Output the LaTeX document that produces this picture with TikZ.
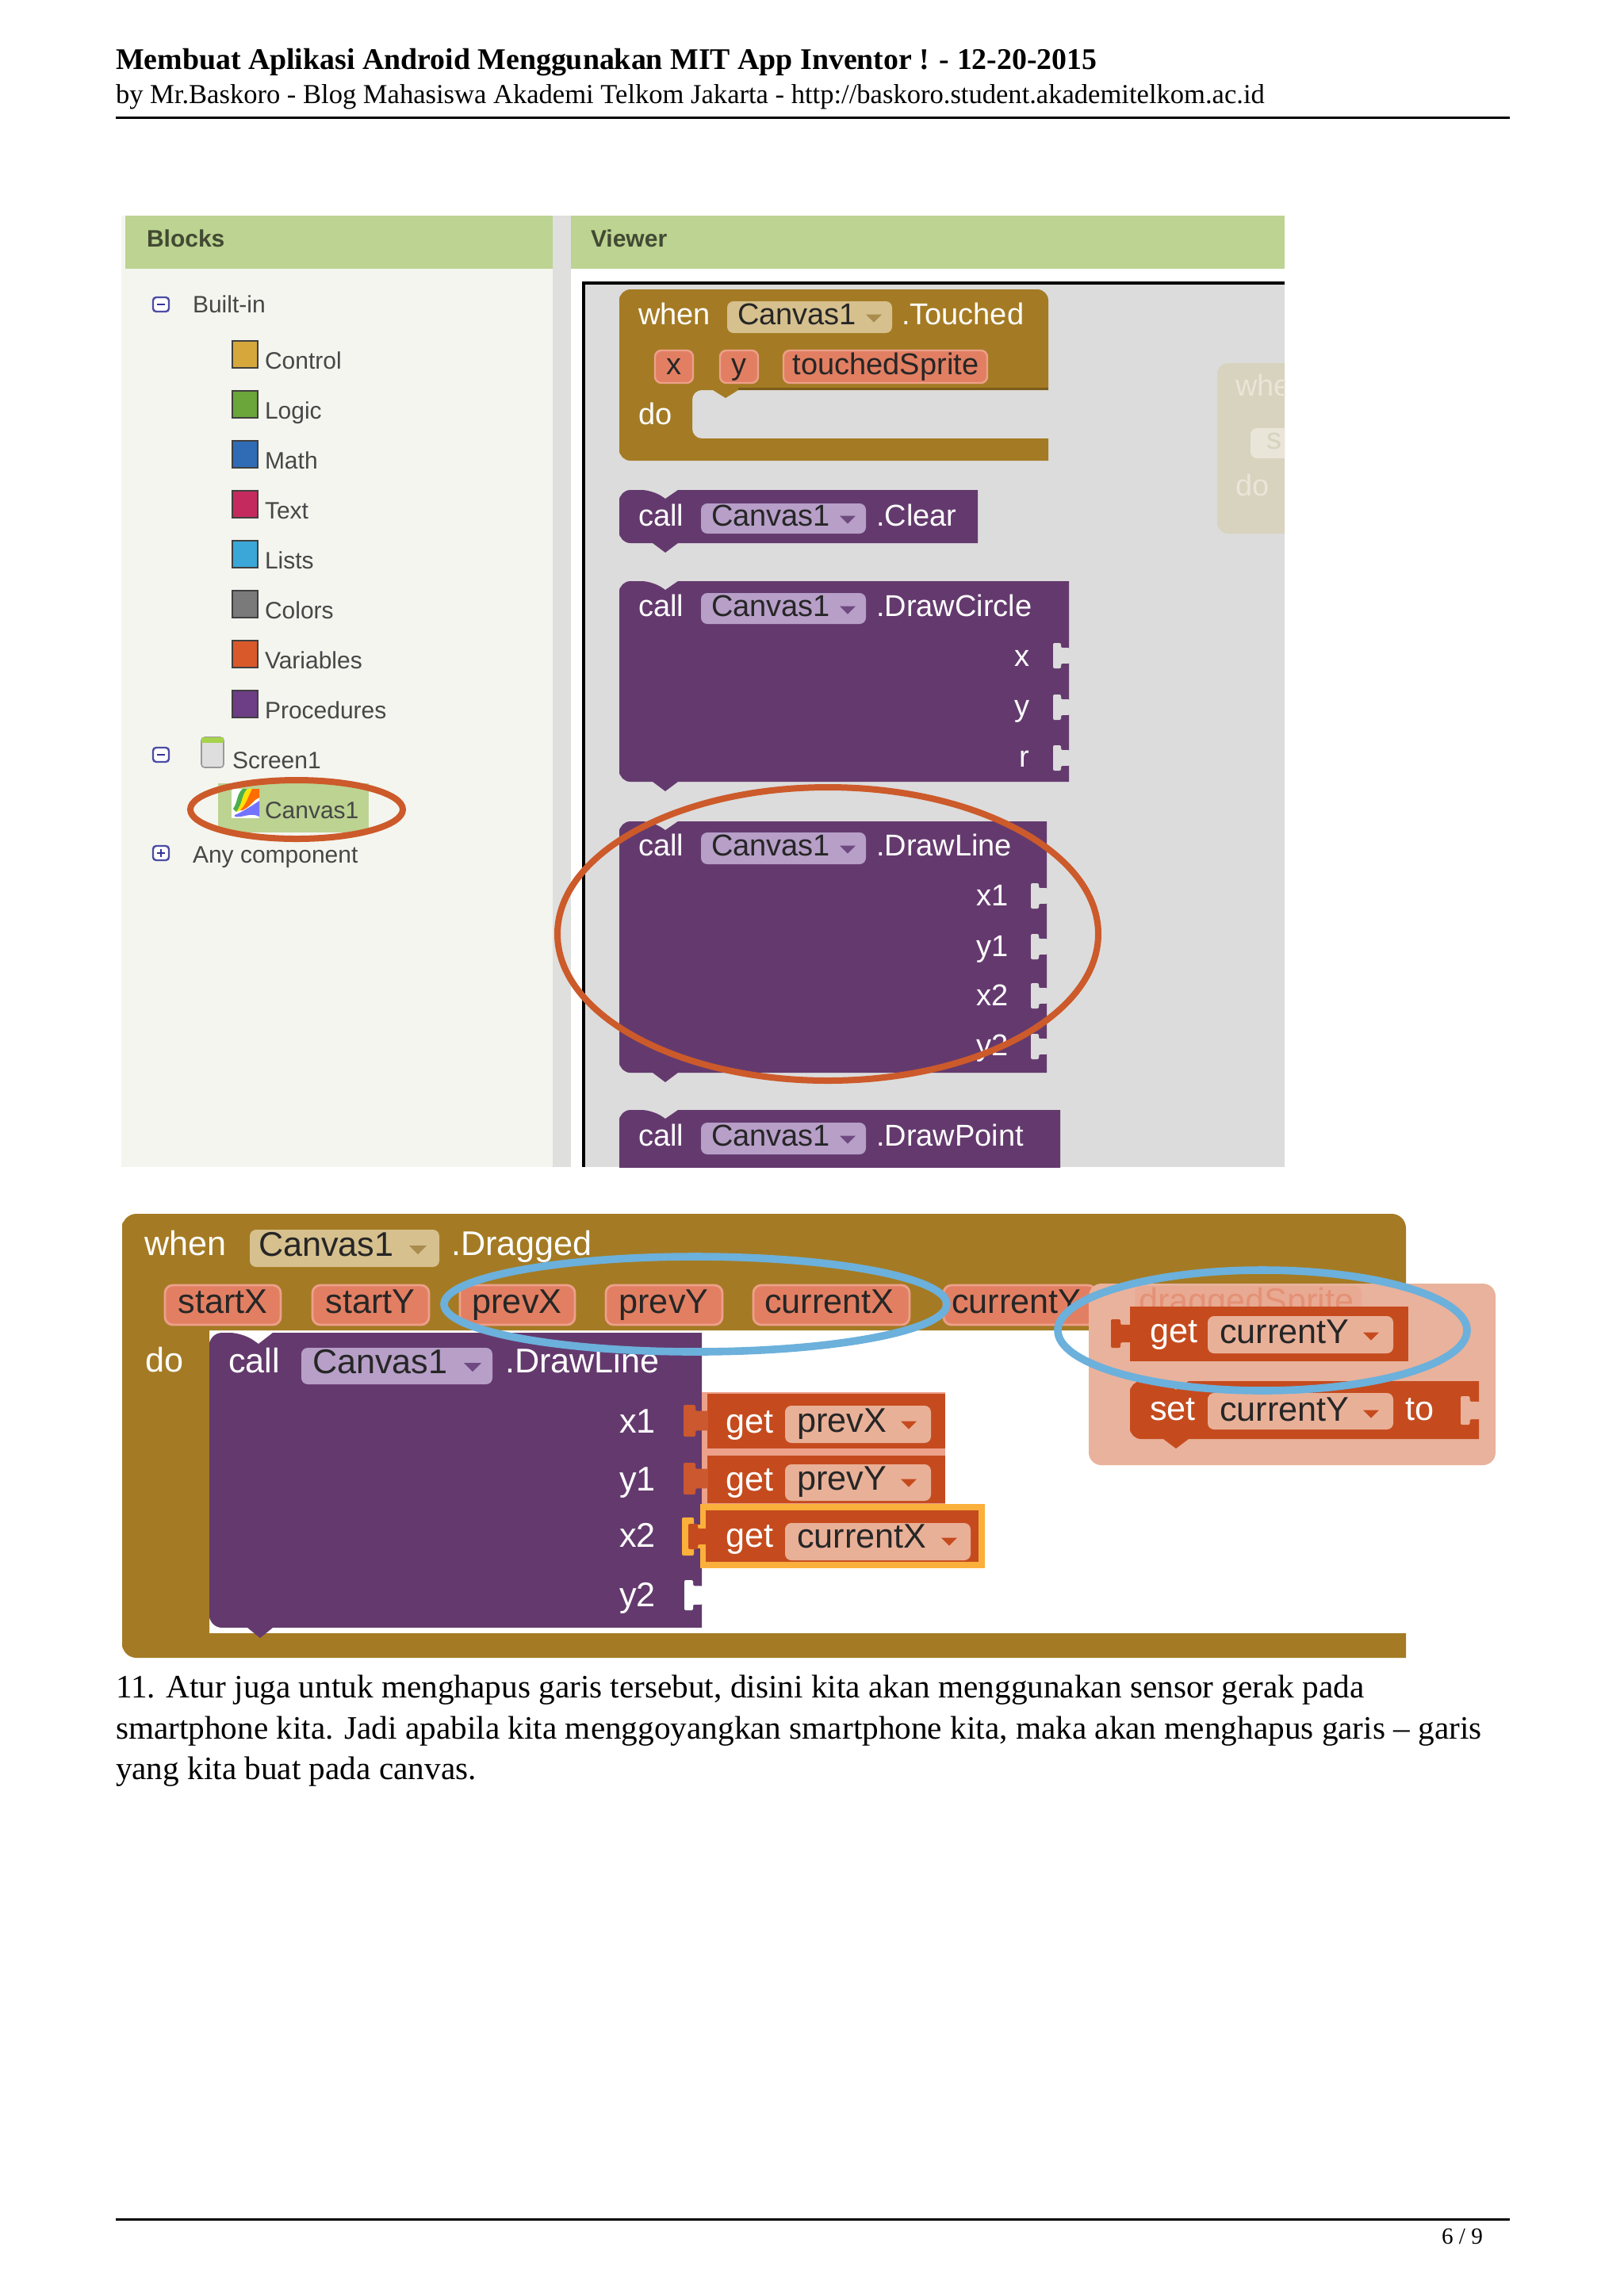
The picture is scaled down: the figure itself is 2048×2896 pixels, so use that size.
\documentclass[tikz,border=0pt]{standalone}
\usepackage{fontspec}
\setmainfont{Liberation Serif}
\setsansfont{Liberation Sans}
\definecolor{pgreen}{HTML}{BCD391}
\definecolor{ppanel}{HTML}{F4F5EF}
\definecolor{pdiv}{HTML}{DFDFDD}
\definecolor{pcanvas}{HTML}{DCDCDC}
\definecolor{bpurple}{HTML}{643A6E}
\definecolor{fpurple}{HTML}{B79FC8}
\definecolor{apurple}{HTML}{6F4A80}
\definecolor{bbrown}{HTML}{A47B24}
\definecolor{fbrown}{HTML}{D6C08E}
\definecolor{abrown}{HTML}{A98C4E}
\definecolor{borange}{HTML}{C54B1E}
\definecolor{forange}{HTML}{E9B098}
\definecolor{chip}{HTML}{E27F62}
\definecolor{chipb}{HTML}{EDA08A}
\definecolor{ebl}{HTML}{6CB0DC}
\definecolor{eor}{HTML}{CC5A2A}
\definecolor{pinkp}{HTML}{E9B29C}
\definecolor{fadeb}{HTML}{D8D3BE}
\definecolor{fadet}{HTML}{E9E5D8}
\definecolor{ylw}{HTML}{FBB03B}
\newcommand\fs[1]{\fontsize{#1}{#1}\selectfont}
\tikzset{
  x=0.25pt,y=-0.25pt,
  tbase/.style={inner sep=0pt,outer sep=0pt,anchor=west,text height=5pt,text depth=0pt},
  headb/.style={tbase,font=\rmfamily\bfseries\fs{9.46}},
  headr/.style={tbase,font=\rmfamily\fs{8.64}},
  bodyt/.style={tbase,font=\rmfamily\fs{10.31}},
  foot/.style={tbase,anchor=east,font=\rmfamily\fs{7.3}},
  rulel/.style={line width=0.75pt,black},
  paneltitle/.style={tbase,font=\sffamily\bfseries\fs{7.5},text=black!65!pgreen},
  item/.style={tbase,font=\sffamily\fs{7.5},text=black!72},
  sw/.style={tbase,font=\sffamily\fs{9.5},text=white},
  sd/.style={tbase,font=\sffamily\fs{9.5},text=black!85},
  lw/.style={tbase,font=\sffamily\fs{10.8},text=white},
  ld/.style={tbase,font=\sffamily\fs{10.8},text=black!85,text height=5.6pt},
  sqr/.style={draw=black!75,line width=0.5pt},
  fieldf/.style={rounded corners=2pt},
}
% block with top notch and bottom tab: colour, x1,y1,x2,y2
\newcommand\stmtblock[5]{%
  \fill[#1,rounded corners=3.5pt] (#2,#5) -- (#2,#3) -- ({#2+42},#3) [sharp corners] -- ({#2+58},{#3+11}) -- ({#2+74},#3) -- (#4,#3) -- (#4,#5) -- ({#2+74},#5) -- ({#2+58},{#5+12}) -- ({#2+42},#5) [rounded corners=3.5pt] -- (#2,#5) -- (#2,#3) -- cycle;}
% socket or plug shape: colour, x2, y, half height of head, total width
\newcommand\portcut[5]{%
  \fill[#1,rounded corners=0.5pt] ({#2+1},{#3-0.62*#4}) -- ({#2-0.5*#5},{#3-0.62*#4}) -- ({#2-0.5*#5},{#3-#4}) -- ({#2-#5},{#3-#4}) -- ({#2-#5},{#3+#4}) -- ({#2-0.5*#5},{#3+#4}) -- ({#2-0.5*#5},{#3+0.62*#4}) -- ({#2+1},{#3+0.62*#4}) -- cycle;}
% dropdown arrow: colour, x, y, half width
\newcommand\dropa[4]{\fill[#1] ({#2-#4},{#3-0.45*#4}) -- ({#2+#4},{#3-0.45*#4}) -- (#2,{#3+0.55*#4}) -- cycle;}
% field: colour,x1,y1,x2,y2
\newcommand\fieldbox[5]{\fill[#1,fieldf] (#2,#3) rectangle (#4,#5);}
\begin{document}
\begin{tikzpicture}
\useasboundingbox (0,0) rectangle (2048,2896);
\fill[white] (0,0) rectangle (2048,2896);
% page header
\node[headb] (h1) at (146,77) {Membuat Aplikasi Android Menggunakan MIT App Inventor ! - 12-20-2015};
\node[headr] (h2) at (146,120) {by Mr.Baskoro - Blog Mahasiswa Akademi Telkom Jakarta - http://baskoro.student.akademitelkom.ac.id};
\draw[rulel] (146,148) -- (1904,148);
% ---- first screenshot
\begin{scope}
\clip (153,272) rectangle (1620,1472);
\fill[ppanel] (153,272) rectangle (697,1472);
\fill[white] (722,340) rectangle (1620,1472);
\fill[pdiv] (697,272) rectangle (720,1472);
\fill[pgreen] (158,272) rectangle (697,339);
\fill[pgreen] (720,272) rectangle (1620,339);
\node[paneltitle] (tblocks) at (185,301) {Blocks};
\node[paneltitle] (tviewer) at (745,301) {Viewer};
\fill[pcanvas] (736,357) rectangle (1620,1472);
\draw[black,line width=0.8pt] (736,1472) -- (736,357) -- (1620,357);
% tree
\foreach \yy in {384,952,1076}{\draw[blue!50!black!70,line width=0.6pt,fill=white,rounded corners=1pt] (193,{\yy-9}) rectangle (213,{\yy+9});\draw[blue!50!black!80,line width=0.6pt] (198,\yy) -- (208,\yy);}
\draw[blue!50!black!80,line width=0.6pt] (203,1071) -- (203,1081);
\node[item] (tbuilt) at (243,384) {Built-in};
\foreach \yy/\cc in {447/D6A83C,510/6AA63A,573/2F6CB5,636/C52A5E,699/3AA7D8,762/7A7A7A,825/D9592A,888/6D3D85}{\definecolor{tmpc}{HTML}{\cc}\fill[tmpc,sqr] (293,{\yy-17}) rectangle (325,{\yy+17});}
\node[item] (tcontrol) at (334,455) {Control};
\node[item] (tlogic) at (334,518) {Logic};
\node[item] (tmath) at (334,581) {Math};
\node[item] (ttext) at (334,644) {Text};
\node[item] (tlists) at (334,707) {Lists};
\node[item] (tcolors) at (334,770) {Colors};
\node[item] (tvars) at (334,833) {Variables};
\node[item] (tprocs) at (334,896) {Procedures};
\fill[black!13,draw=black!40,line width=0.4pt,rounded corners=1pt] (254,930) rectangle (282,968);
\fill[green!50!black!50!yellow!70] (254,930) rectangle (282,937);
\node[item] (tscreen) at (293,959) {Screen1};
\fill[pgreen] (275,988) rectangle (465,1050);
% canvas icon
\fill[white] (292,995) rectangle (327,1032);
\fill[green!55!black!70] (294,1020) .. controls (300,1012) and (298,1002) .. (306,995) -- (312,995) .. controls (304,1004) and (307,1012) .. (298,1024) -- cycle;
\fill[yellow!85!orange] (298,1024) .. controls (307,1012) and (304,1004) .. (312,995) -- (318,995) .. controls (312,1006) and (312,1012) .. (303,1022) -- cycle;
\fill[orange!85!red] (303,1022) .. controls (312,1012) and (312,1006) .. (318,995) -- (327,995) -- (327,1006) .. controls (320,1008) and (318,1016) .. (306,1022) -- cycle;
\fill[blue!55] (296,1028) .. controls (306,1024) and (318,1016) .. (327,1010) -- (327,1030) .. controls (316,1024) and (306,1032) .. (296,1030) -- cycle;
\node[item] (tcanvas) at (334,1022) {Canvas1};
\draw[eor,line width=2pt] (374,1021) ellipse (134 and 37);
\node[item] (tany) at (243,1078) {Any component};
\begin{scope}[xshift=-0.75pt]
% Touched block
\fill[bbrown,rounded corners=3.5pt] (784,581) -- (784,365) -- (1325,365) [sharp corners] -- (1325,492) -- (934,492) -- (918,502) -- (902,492) [rounded corners=3pt] -- (876,492) -- (876,553) [sharp corners] -- (1325,553) -- (1325,581) [rounded corners=3.5pt] -- (784,581) -- (784,365) -- cycle;
\fill[black!25!bbrown] (1325,489) rectangle (934,492);
\node[sw] (wh1) at (808,399) {when};
\fieldbox{fbrown}{920}{380}{1128}{420}
\node[sd] (fc1) at (933,399) {Canvas1};
\dropa{abrown}{1105}{401}{10}
\node[sw] (td1) at (1140,399) {.Touched};
\fill[chip,draw=chipb,line width=0.6pt,rounded corners=2pt] (829,442) rectangle (877,483);
\fill[chip,draw=chipb,line width=0.6pt,rounded corners=2pt] (911,442) rectangle (959,483);
\fill[chip,draw=chipb,line width=0.6pt,rounded corners=2pt] (991,442) rectangle (1248,483);
\node[sd,anchor=center] (cx) at (853,462) {x};
\node[sd,anchor=center] (cy) at (935,462) {y};
\node[sd,anchor=center] (cts) at (1120,462) {touchedSprite};
\node[sw] (do1) at (808,525) {do};
% Clear block
\stmtblock{bpurple}{784}{618}{1236}{685}
\node[sw] (c2) at (808,653) {call};
\fieldbox{fpurple}{887}{635}{1095}{673}
\node[sd] (f2) at (900,653) {Canvas1};
\dropa{apurple}{1072}{655}{10}
\node[sw] (t2) at (1108,653) {.Clear};
% DrawCircle block
\stmtblock{bpurple}{784}{733}{1351}{986}
\node[sw] (c3) at (808,767) {call};
\fieldbox{fpurple}{887}{748}{1095}{787}
\node[sd] (f3) at (900,767) {Canvas1};
\dropa{apurple}{1072}{769}{10}
\node[sw] (t3) at (1108,767) {.DrawCircle};
\node[sw,anchor=east] (p3a) at (1301,830) {x};
\node[sw,anchor=east] (p3b) at (1301,893) {y};
\node[sw,anchor=east] (p3c) at (1301,957) {r};
\foreach \yy in {827,892,956}{\portcut{pcanvas}{1351}{\yy}{16}{20}}
% DrawLine block
\stmtblock{bpurple}{784}{1036}{1323}{1353}
\node[sw] (c4) at (808,1069) {call};
\fieldbox{fpurple}{887}{1050}{1095}{1090}
\node[sd] (f4) at (900,1069) {Canvas1};
\dropa{apurple}{1072}{1071}{10}
\node[sw] (t4) at (1108,1069) {.DrawLine};
\node[sw,anchor=east] (p4a) at (1275,1132) {x1};
\node[sw,anchor=east] (p4b) at (1275,1196) {y1};
\node[sw,anchor=east] (p4c) at (1275,1258) {x2};
\node[sw,anchor=east] (p4d) at (1275,1321) {y2};
\foreach \yy in {1130,1194,1256,1320}{\portcut{pcanvas}{1323}{\yy}{16}{20}}
% DrawPoint block
\stmtblock{bpurple}{784}{1400}{1340}{1520}
\node[sw] (c5) at (808,1435) {call};
\fieldbox{fpurple}{887}{1416}{1095}{1456}
\node[sd] (f5) at (900,1435) {Canvas1};
\dropa{apurple}{1072}{1437}{10}
\node[sw] (t5) at (1108,1435) {.DrawPoint};
\end{scope}
% faded block
\fill[fadeb,rounded corners=3.5pt] (1535,673) -- (1535,458) -- (1700,458) -- (1700,673) -- cycle;
\node[tbase,font=\sffamily\fs{9.5},text=fadet] (fw) at (1558,489) {when};
\fill[fadet,rounded corners=2pt] (1577,540) rectangle (1650,578);
\node[tbase,font=\sffamily\fs{9.5},text=fadeb] (fs) at (1597,556) {s};
\node[tbase,font=\sffamily\fs{9.5},text=fadet] (fd) at (1558,615) {do};
\draw[eor,line width=2pt] (1044,1178) ellipse (341 and 185);
\end{scope}
% ---- second screenshot
\fill[bbrown,rounded corners=4.5pt] (264,2060) -- (154,2060) -- (154,2091) -- (154,1531) -- (1773,1531) [sharp corners] -- (1773,1678) -- (264,1678) -- (264,2060) [sharp corners] -- (1773,2060) -- (1773,2091) [rounded corners=4.5pt] -- (154,2091) -- (154,1531) -- cycle;
\node[lw] (wh6) at (182,1573) {when};
\fieldbox{fbrown}{315}{1551}{554}{1598}
\node[ld] (f6) at (326,1573) {Canvas1};
\dropa{abrown}{527}{1576}{11}
\node[lw] (t6) at (569,1573) {.Dragged};
\node[lw] (do6) at (183,1720) {do};
% chips
\foreach \xa/\xb in {208/354,394/541,580/725,764/911,950/1147,1190/1382}{\fill[chip,draw=chipb,line width=0.7pt,rounded corners=2.5pt] (\xa,1621) rectangle (\xb,1671);}
\node[ld,anchor=center] (ch1) at (281,1645) {startX};
\node[ld,anchor=center] (ch2) at (467,1645) {startY};
\node[ld,anchor=center] (ch3) at (652,1645) {prevX};
\node[ld,anchor=center] (ch4) at (837,1645) {prevY};
\node[ld,anchor=center] (ch5) at (1046,1645) {currentX};
\node[ld,anchor=center] (ch6) at (1282,1645) {currentY};
% purple call
\fill[bpurple,rounded corners=4pt] (264,2053) -- (264,1681) -- (306,1681) [sharp corners] -- (326,1695) -- (344,1681) -- (885,1681) -- (885,2053) -- (344,2053) -- (328,2066) -- (312,2053) [rounded corners=4pt] -- (264,2053) -- (264,1681) -- cycle;
\node[lw] (c6) at (288,1721) {call};
\fieldbox{fpurple}{380}{1700}{621}{1746}
\node[ld] (f7) at (394,1721) {Canvas1};
\dropa{apurple}{596}{1724}{11}
\node[lw] (t7) at (637,1721) {.DrawLine};
\node[lw,anchor=east] (p6a) at (827,1797) {x1};
\node[lw,anchor=east] (p6b) at (827,1870) {y1};
\node[lw,anchor=east] (p6c) at (827,1941) {x2};
\node[lw,anchor=east] (p6d) at (827,2016) {y2};
\portcut{white}{885}{2012}{19}{22}
% get blocks
\fill[chipb] (885,1756) rectangle (1192,1833);
\fill[borange] (892,1758) rectangle (1192,1827);
\portcut{borange!85!chipb}{892}{1792}{20}{30}
\node[lw] (g1) at (915,1797) {get};
\fieldbox{forange}{990}{1773}{1174}{1820}
\node[ld] (gf1) at (1005,1795) {prevX};
\dropa{borange}{1146}{1797}{10}
\fill[chipb] (885,1833) rectangle (1192,1897);
\fill[borange] (892,1836) rectangle (1192,1896);
\portcut{borange!85!chipb}{892}{1865}{20}{30}
\node[lw] (g2) at (915,1870) {get};
\fieldbox{forange}{990}{1847}{1174}{1893}
\node[ld] (gf2) at (1005,1868) {prevY};
\dropa{borange}{1146}{1870}{10}
\fill[ylw] (883,1897) rectangle (1242,1978);
\portcut{ylw}{890}{1938}{24}{30}
\fill[borange] (890,1905) rectangle (1234,1970);
\portcut{borange}{892}{1938}{16}{24}
\node[lw] (g3) at (915,1941) {get};
\fieldbox{forange}{990}{1921}{1224}{1968}
\node[ld] (gf3) at (1005,1941) {currentX};
\dropa{borange}{1197}{1944}{10}
% pink panel
\fill[pinkp,rounded corners=4pt] (1373,1619) rectangle (1886,1848);
\fill[pinkp!85!chip,rounded corners=2pt] (1431,1622) rectangle (1717,1660);
\node[tbase,font=\sffamily\fs{10.8},text=chip!65!pinkp] (drag) at (1436,1645) {draggedSprite};
\fill[borange] (1425,1648) rectangle (1776,1717);
\portcut{borange}{1425}{1682}{18}{24}
\node[lw] (g4) at (1450,1683) {get};
\fieldbox{forange}{1523}{1660}{1757}{1707}
\node[ld] (gf4) at (1538,1683) {currentY};
\dropa{borange}{1729}{1685}{10}
\stmtblock{borange}{1425}{1742}{1865}{1815}
\portcut{pinkp}{1865}{1779}{18}{23}
\node[lw] (s4) at (1450,1781) {set};
\fieldbox{forange}{1523}{1757}{1757}{1803}
\node[ld] (sf4) at (1538,1781) {currentY};
\dropa{borange}{1729}{1783}{10}
\node[lw] (st4) at (1772,1781) {to};
% blue ellipses
\draw[ebl,line width=2.4pt] (877,1645) ellipse (317 and 60);
\draw[ebl,line width=2.4pt] (1592,1678) ellipse (258 and 76);
% body text
\node[bodyt] (b1) at (146,2131) {11. Atur juga untuk menghapus garis tersebut, disini kita akan menggunakan sensor gerak pada};
\node[bodyt] (b2) at (146,2183) {smartphone kita. Jadi apabila kita menggoyangkan smartphone kita, maka akan menghapus garis – garis};
\node[bodyt] (b3) at (146,2234) {yang kita buat pada canvas.};
% footer
\draw[rulel] (146,2799) -- (1904,2799);
\node[foot] (pg) at (1870,2820) {6 / 9};
\end{tikzpicture}
\end{document}
